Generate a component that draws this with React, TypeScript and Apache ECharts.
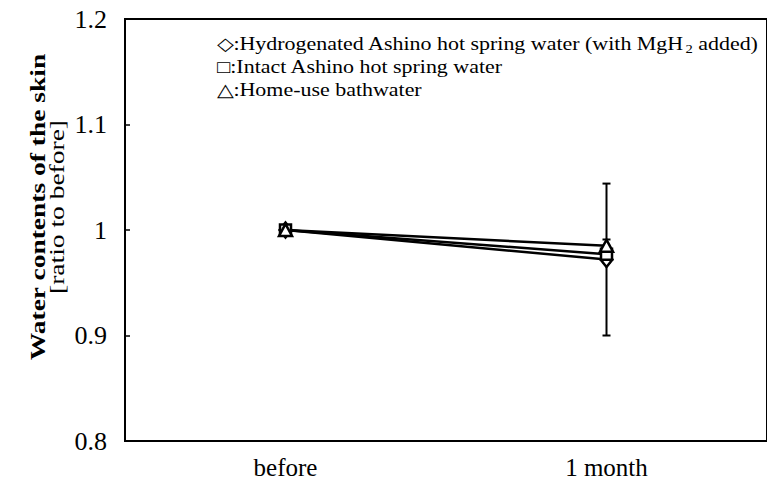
import React, { useEffect, useRef } from 'react';
import * as echarts from 'echarts';

const categories = ['before', '1 month'];
const legendGlyphs = ['◇', '□', '△'];
const legendNames = [
  'Hydrogenated Ashino hot spring water (with MgH{sub|2} added)',
  'Intact Ashino hot spring water',
  'Home-use bathwater',
];
const hydrogenated = [1.0, 0.972];
const intact = [1.0, 0.977];
const homeUse = [1.0, 0.985];
const hydrogenatedErr = [0.004, 0.072];
const intactErr = [0.004, 0.008];
const homeUseErr = [0.003, 0.006];
const yTicks = [0.8, 0.9, 1.0, 1.1, 1.2];
const yTitle = ['Water contents of the skin', '[ratio to before]'];

const FONT = 'Liberation Serif';

function errData(vals: number[], errs: number[]) {
  return vals.map((v, i) => [i, v - errs[i], v + errs[i]]);
}

export default function App() {
  const ref = useRef<HTMLDivElement>(null);
  useEffect(() => {
    if (!ref.current) return;
    const chart = echarts.init(ref.current, null, { renderer: 'svg' });
    const symbols = ['diamond', 'rect', 'triangle'];
    const sizes: any[] = [[12, 15], 11, [13, 12]];
    const vals = [hydrogenated, intact, homeUse];
    const errs = [hydrogenatedErr, intactErr, homeUseErr];

    const errSeries = vals.map((v, k) => ({
      type: 'custom',
      name: 'err' + k,
      data: errData(v, errs[k]),
      z: 1,
      renderItem: (params: any, api: any) => {
        const lo = api.coord([api.value(0), api.value(1)]);
        const hi = api.coord([api.value(0), api.value(2)]);
        const w = 4;
        const st = { stroke: '#000', lineWidth: 2 };
        return {
          type: 'group',
          children: [
            { type: 'line', shape: { x1: lo[0], y1: lo[1], x2: hi[0], y2: hi[1] }, style: st },
            { type: 'line', shape: { x1: lo[0] - w, y1: lo[1], x2: lo[0] + w, y2: lo[1] }, style: st },
            { type: 'line', shape: { x1: hi[0] - w, y1: hi[1], x2: hi[0] + w, y2: hi[1] }, style: st },
          ],
        };
      },
    }));

    const lineSeries = vals.map((v, k) => ({
      type: 'line',
      name: 's' + k,
      data: v,
      symbol: symbols[k],
      symbolSize: sizes[k],
      z: 3,
      lineStyle: { color: '#000', width: 2.5 },
      itemStyle: { color: '#fff', borderColor: '#000', borderWidth: 2.5 },
    }));

    const legendGraphics = legendNames.map((n, i) => ({
      type: 'text',
      x: 217,
      y: 44 + i * 23,
      scaleX: 1.22,
      style: {
        text: legendGlyphs[i] + ':' + n,
        fontFamily: FONT,
        fontSize: 18,
        fill: '#000',
        verticalAlign: 'middle',
        rich: {
          sub: { fontSize: 12, fontFamily: FONT, padding: [9, 0, 0, 0], fill: '#000' },
        },
      },
    }));

    chart.setOption({
      animation: false,
      backgroundColor: '#fff',
      textStyle: { fontFamily: FONT },
      grid: {
        left: 125,
        top: 19,
        width: 646,
        height: 422,
        show: true,
        borderColor: '#000',
        borderWidth: 2,
        backgroundColor: 'transparent',
      },
      xAxis: {
        type: 'category',
        data: categories,
        boundaryGap: true,
        axisLine: { lineStyle: { color: '#000', width: 2 } },
        axisTick: { inside: true, length: 6, lineStyle: { color: '#000', width: 1.5 } },
        axisLabel: { color: '#000', fontFamily: FONT, fontSize: 25, margin: 14 },
      },
      yAxis: {
        type: 'value',
        min: yTicks[0],
        max: yTicks[yTicks.length - 1],
        interval: 0.1,
        splitLine: { show: false },
        axisLine: { show: true, lineStyle: { color: '#000', width: 2 } },
        axisTick: { show: true, inside: true, length: 5, lineStyle: { color: '#000', width: 1.5 } },
        axisLabel: {
          color: '#000',
          fontFamily: FONT,
          fontSize: 26,
          margin: 18,
          formatter: (v: number) => String(Math.round(v * 10) / 10),
        },
      },
      graphic: [
        {
          type: 'text',
          x: 47,
          y: 207,
          rotation: Math.PI / 2,
          scaleX: 1.25,
          style: {
            text: `{b|${yTitle[0]}}\n{r|${yTitle[1]}}`,
            align: 'center',
            verticalAlign: 'middle',
            fill: '#000',
            rich: {
              b: { fontFamily: FONT, fontSize: 22, fontWeight: 'bold', lineHeight: 19, fill: '#000' },
              r: { fontFamily: FONT, fontSize: 22, lineHeight: 19, fill: '#000' },
            },
          },
        },
        ...legendGraphics,
      ],
      series: [...errSeries, ...lineSeries],
    });
    return () => chart.dispose();
  }, []);
  return (
    <div
      ref={ref}
      style={{ position: 'absolute', left: 0, top: 0, width: 767, height: 486 }}
    />
  );
}
